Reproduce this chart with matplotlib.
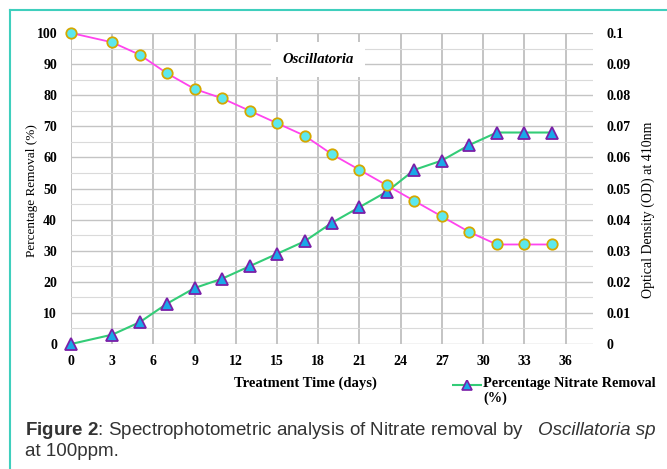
import numpy as np
import matplotlib
matplotlib.use("Agg")
import matplotlib.pyplot as plt
from matplotlib.lines import Line2D

# treatment days
days = [0, 3, 5, 7, 9, 11, 13, 15, 17, 19, 21, 23, 25, 27, 29, 31, 33, 35]
# percentage nitrate removal (%)
removal = [0, 3, 7, 13, 18, 21, 25, 29, 33, 39, 44, 49, 56, 59, 64, 68, 68, 68]
# optical density at 410nm
od = [0.100, 0.097, 0.093, 0.087, 0.082, 0.079, 0.075, 0.071, 0.067, 0.061,
      0.056, 0.051, 0.046, 0.041, 0.036, 0.032, 0.032, 0.032]

xticks = list(range(0, 37, 3))
left_ticks = list(range(0, 101, 10))
right_ticks = [0, 0.01, 0.02, 0.03, 0.04, 0.05, 0.06, 0.07, 0.08, 0.09, 0.1]
right_labels = ["0", "0.01", "0.02", "0.03", "0.04", "0.05", "0.06", "0.07", "0.08", "0.09", "0.1"]

plt.rcParams["mathtext.fontset"] = "custom"
plt.rcParams["mathtext.rm"] = "Liberation Sans"
plt.rcParams["mathtext.bf"] = "Liberation Sans:bold"
plt.rcParams["mathtext.it"] = "Liberation Sans:italic"

serif = "Liberation Serif"
fig = plt.figure(figsize=(6.67, 4.69), dpi=100)

# teal frame lines (top and left)
fig.add_artist(Line2D([10/667, 1], [1-10/469, 1-10/469], color="#3fcfbd", lw=1.5))
fig.add_artist(Line2D([10/667, 10/667], [0, 1-10/469], color="#3fcfbd", lw=1.5))

ax = fig.add_axes([71/667, 1-344/469, 522/667, 311/469])
ax.set_xlim(0, 38)
ax.set_ylim(0, 100)
ax.set_xticks(xticks)
ax.set_yticks(left_ticks)
ax.set_yticks(range(5, 100, 10), minor=True)
ax.grid(True, which="major", axis="x", color="#b4b4b4", lw=1.1)
ax.grid(True, which="major", axis="y", color="#c4c4c4", lw=1.0)
ax.grid(True, which="minor", axis="y", color="#dadada", lw=0.8)
ax.set_axisbelow(True)
for s in ax.spines.values():
    s.set_visible(False)
ax.tick_params(axis="x", length=0, labelsize=10, pad=8)
ax.tick_params(axis="y", length=0, labelsize=10, pad=10)
ax.tick_params(which="minor", length=0)
for lab in ax.get_xticklabels() + ax.get_yticklabels():
    lab.set_fontfamily(serif)
    lab.set_fontweight("bold")

ax2 = ax.twinx()
ax2.set_ylim(0, 0.1)
ax2.set_yticks(right_ticks)
ax2.set_yticklabels(right_labels)
for s in ax2.spines.values():
    s.set_visible(False)
ax2.tick_params(length=0, labelsize=10, pad=10)
for lab in ax2.get_yticklabels():
    lab.set_fontfamily(serif)
    lab.set_fontweight("bold")

ax2.plot(days, od, color="#ff44ee", lw=1.3, marker="o", ms=7.5,
         mfc="#5ce8ee", mec="#d4a800", mew=1.3, clip_on=False, zorder=3)
ax.plot(days, removal, color="#33cc77", lw=1.5, marker="^", ms=8.5,
        mfc="#1aa8e8", mec="#7a1fa8", mew=1.3, clip_on=False, zorder=4)

fig.text(32/667, 1-191/469, "Percentage Removal (%)", fontfamily=serif,
         fontsize=9.5, rotation=90, ha="center", va="center")
fig.text(648/667, 1-210/469, "Optical Density (OD) at 410nm", fontfamily=serif,
         fontsize=10, rotation=90, ha="center", va="center")

ax.text(18.0, 91.5, "Oscillatoria", fontfamily=serif, fontstyle="italic",
        fontweight="bold", fontsize=10.5, ha="center", va="center",
        bbox=dict(facecolor="white", edgecolor="none", pad=8))

fig.text(305/667, 1-383/469, "Treatment Time (days)", fontfamily=serif,
         fontweight="bold", fontsize=10.5, ha="center", va="center")

# legend entry
leg_ax = fig.add_axes([452/667, 1-390/469, 30/667, 10/469])
leg_ax.plot([0, 1], [0.5, 0.5], color="#33cc77", lw=1.5)
leg_ax.plot([0.5], [0.5], marker="^", ms=7, mfc="#1aa8e8", mec="#7a1fa8", mew=1.2)
leg_ax.set_xlim(0, 1)
leg_ax.set_ylim(0, 1)
leg_ax.axis("off")
fig.text(483/667, 1-377/469, "Percentage Nitrate Removal\n(%)", fontfamily=serif,
         fontweight="bold", fontsize=10.3, ha="left", va="top", linespacing=1.1)

cap_y = 1 - 430/469
fig.text(25/667, cap_y,
         r"$\bf{Figure\ 2}$: Spectrophotometric analysis of Nitrate removal by",
         fontfamily="Liberation Sans", fontsize=13.5, color="#333333", va="center")
fig.text(655/667, cap_y, "Oscillatoria sp", fontfamily="Liberation Sans",
         fontstyle="italic", fontsize=13.5, color="#333333", va="center", ha="right")
fig.text(25/667, 1-451/469, "at 100ppm.", fontfamily="Liberation Sans",
         fontsize=13.5, color="#333333", va="center")

fig.savefig("out.png", dpi=100)
